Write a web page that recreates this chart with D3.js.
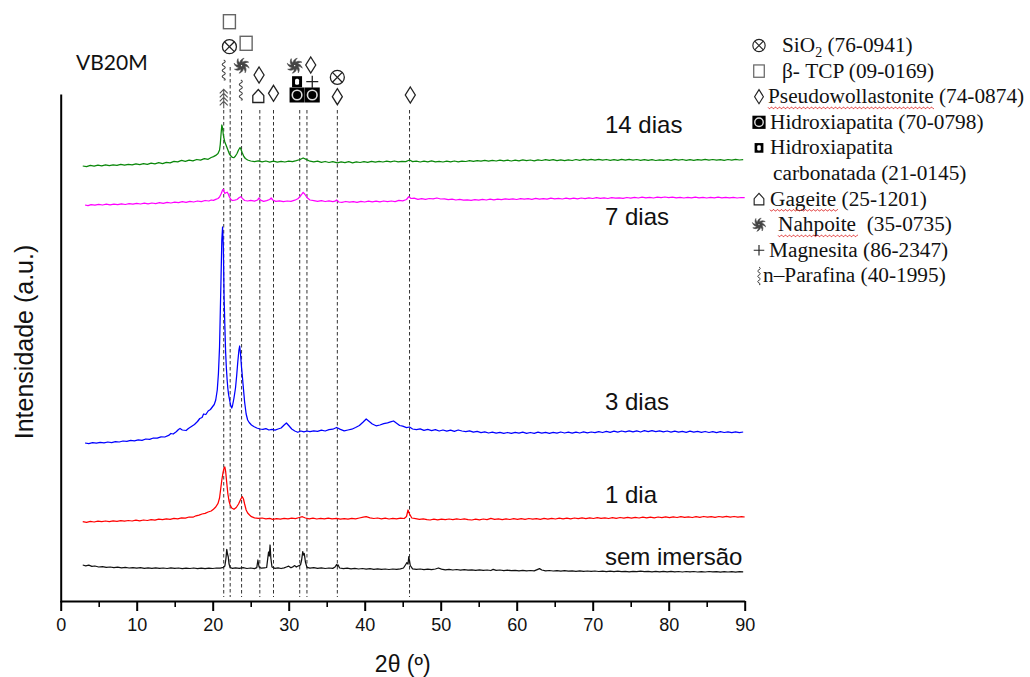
<!DOCTYPE html>
<html><head><meta charset="utf-8">
<script src="https://cdn.jsdelivr.net/npm/d3@7"></script>
<style>
html,body{margin:0;padding:0;background:#fff;}
svg{display:block;}
</style></head><body>
<svg id="chart" width="1030" height="677"></svg>
<script>
// ---------- XRD patterns of VB20M, [2θ (°), intensity (a.u., stacked)] ----------
const dias14 = [[2.9,436],[3.4,435.4],[3.9,436.6],[4.4,435.9],[4.9,436.8],[5.4,436.1],[5.9,437.2],[6.4,436.3],[6.9,437.1],[7.4,436.6],[7.9,437.6],[8.4,436.8],[8.9,437.7],[9.4,437.1],[9.9,438.2],[10.4,437.3],[10.9,438.4],[11.4,437.7],[11.9,438.9],[12.4,438.1],[12.9,439.3],[13.4,438.4],[13.9,439.7],[14.4,439.1],[14.9,440.7],[15.4,440.1],[15.9,441.6],[16.4,440.7],[16.9,441.9],[17.4,441.1],[17.9,442.5],[18.4,441.8],[18.9,443.3],[19.4,442.7],[19.8,444.5],[20.1,445.4],[20.4,446.6],[20.7,448.5],[20.9,452],[21.0,458],[21.1,468],[21.2,477],[21.3,474],[21.4,467],[21.5,463],[21.6,460],[21.8,456],[22.0,452],[22.2,448],[22.4,446],[22.6,444.5],[22.8,444.4],[23.0,446],[23.2,448.5],[23.4,452],[23.6,454.5],[23.7,453],[23.9,449],[24.1,445.5],[24.3,443.5],[24.6,442],[25.0,441],[25.5,440.3],[26.0,441.1],[26.5,440.2],[27.0,441],[27.5,439.9],[28.0,440.8],[28.5,439.8],[29.0,440.7],[29.5,440],[30.0,440.9],[30.5,440.4],[31.0,441.4],[31.5,442.5],[31.9,444],[32.3,442.6],[32.8,440.8],[33.3,440.1],[33.8,440.9],[34.3,439.6],[34.8,440.5],[35.3,439.5],[35.8,440.4],[36.4,439.1],[36.9,440.1],[37.4,439.4],[37.9,440.3],[38.4,439.2],[38.9,440.1],[39.4,439.5],[39.9,440.4],[40.4,439.6],[40.9,440.7],[41.4,439.8],[41.9,440.6],[42.4,440],[42.9,440.9],[43.4,440.2],[43.9,441],[44.4,440.1],[44.9,440.7],[45.4,440.4],[45.9,442],[46.3,440.4],[46.8,440.9],[47.3,440],[47.8,440.8],[48.3,440.2],[48.8,441.1],[49.3,440.2],[49.8,440.7],[50.3,440],[50.8,440.9],[51.3,440.2],[51.8,441],[52.3,440.2],[52.8,440.8],[53.3,440.5],[53.8,441.3],[54.3,440.6],[54.8,441.4],[55.3,440.8],[55.8,441.6],[56.3,440.9],[56.8,441.7],[57.3,441],[57.8,441.9],[58.3,441.2],[58.8,441.8],[59.3,441],[59.8,441.9],[60.3,441.2],[60.8,442.1],[61.3,441.4],[61.8,442],[62.3,441.2],[62.8,442.1],[63.3,441.5],[63.8,442.4],[64.3,441.6],[64.8,442.3],[65.3,441.4],[65.8,442.1],[66.3,441.3],[66.8,442.2],[67.3,441.5],[67.8,442.5],[68.3,441.7],[68.8,442.6],[69.3,441.8],[69.8,442.7],[70.3,441.9],[70.8,442.6],[71.3,441.8],[71.8,442.5],[72.3,441.7],[72.8,442.4],[73.3,441.6],[73.8,442.6],[74.3,441.8],[74.8,442.7],[75.3,441.9],[75.8,442.5],[76.3,441.7],[76.8,442.4],[77.3,441.6],[77.8,442.3],[78.3,441.5],[78.8,442.2],[79.3,441.6],[79.8,442.4],[80.3,441.7],[80.8,442.6],[81.3,441.8],[81.8,442.5],[82.3,441.7],[82.8,442.3],[83.3,441.6],[83.8,442.4],[84.3,441.8],[84.8,442.6],[85.3,441.9],[85.8,442.5],[86.3,441.8],[86.8,442.4],[87.3,441.7],[87.8,442.5],[88.3,441.9],[88.8,442.6],[89.3,442],[89.8,442.3]];

const dias7 = [[3.2,397],[3.6,396.4],[4.0,397.3],[4.5,396.8],[5.0,397.6],[5.5,397],[6.0,397.8],[6.5,397.1],[7.0,397.9],[7.5,397.4],[8.0,398.2],[8.5,397.5],[9.0,398.3],[9.5,397.8],[10.0,398.6],[10.5,398],[11.0,398.8],[11.5,398.1],[12.0,399],[12.5,398.4],[13.0,399.3],[13.5,398.7],[14.0,399.6],[14.5,399],[15.0,399.8],[15.5,399.3],[16.0,400.3],[16.5,399.6],[17.0,400.6],[17.5,400],[18.0,401],[18.5,400.4],[19.0,401.5],[19.5,401],[19.8,402],[20.1,401.6],[20.4,402.6],[20.7,403.5],[20.9,405],[21.1,408],[21.3,412],[21.4,412.7],[21.5,410.5],[21.6,408.6],[21.75,409.2],[21.9,409.8],[22.05,408],[22.2,405],[22.4,402.4],[22.6,401.5],[22.9,401.8],[23.2,402.5],[23.5,404.5],[23.7,405.3],[23.9,403.6],[24.2,401.5],[24.6,401],[25.0,401.6],[25.5,400.8],[25.9,402],[26.1,404],[26.3,401.8],[26.7,400.6],[27.1,401.4],[27.5,402.5],[27.7,404],[27.9,402],[28.3,400.6],[28.8,401.2],[29.3,400.4],[29.8,401],[30.3,400.6],[30.8,401.8],[31.2,403.2],[31.6,406.5],[31.9,409.7],[32.1,408],[32.4,404.5],[32.8,402],[33.3,401.4],[33.8,400.6],[34.3,401.4],[34.8,400.5],[35.3,401.2],[35.8,400.4],[36.1,400.8],[36.3,402],[36.6,400],[37.0,399.6],[37.5,400.5],[38.0,399.8],[38.5,400.4],[39.0,399.7],[39.5,400.6],[40.0,400],[40.5,400.8],[41.0,400.2],[41.5,400.9],[42.0,400.2],[42.5,401],[43.0,400.3],[43.5,401],[44.0,400.4],[44.5,401.6],[45.0,401.2],[45.5,402.5],[45.8,405.3],[46.1,403.5],[46.5,403.8],[47.0,402.6],[47.5,403.4],[48.0,402.6],[48.5,403.5],[49.0,403.2],[49.5,404],[50.0,403],[50.5,403.2],[51.0,402.4],[51.5,402.8],[52.0,402],[52.5,402.6],[53.0,401.8],[53.5,402.2],[54.0,401.7],[54.5,402.4],[55.0,401.9],[55.5,402.6],[56.0,402],[56.5,402.8],[57.0,402.2],[57.5,402.9],[58.0,402.4],[58.5,403.2],[59.0,402.6],[59.5,403.1],[60.0,402.5],[60.5,403.4],[61.0,402.8],[61.5,403.3],[62.0,402.7],[62.5,403.6],[63.0,402.9],[63.5,403.4],[64.0,402.8],[64.5,403.8],[65.0,403.1],[65.5,403.6],[66.0,403],[66.5,403.9],[67.0,403.2],[67.5,403.8],[68.0,403.1],[68.5,404],[69.0,403.4],[69.5,404.1],[70.0,403.5],[70.5,404.3],[71.0,403.7],[71.5,404.1],[72.0,403.5],[72.5,404.4],[73.0,403.8],[73.5,404.2],[74.0,403.6],[74.5,404.5],[75.0,403.9],[75.5,404.6],[76.0,404],[76.5,404.8],[77.0,404.1],[77.5,404.6],[78.0,404],[78.5,404.9],[79.0,404.3],[79.5,405],[80.0,404.4],[80.5,404.8],[81.0,404.1],[81.5,404.7],[82.0,404],[82.5,404.6],[83.0,404.1],[83.5,404.9],[84.0,404.2],[84.5,404.7],[85.0,404],[85.5,404.6],[86.0,404.1],[86.5,404.8],[87.0,404.2],[87.5,404.7],[88.0,404.1],[88.5,404.6],[89.0,404],[89.5,404.5],[90.0,404.3]];

const dias3 = [[3.2,159],[3.7,158.4],[4.2,159.3],[4.7,158.8],[5.2,159.6],[5.7,159.1],[6.2,160],[6.7,159.4],[7.2,160.4],[7.7,160],[8.2,161],[8.7,160.6],[9.2,161.6],[9.7,161.2],[10.2,162.2],[10.7,161.7],[11.2,163],[11.7,162.6],[12.2,164],[12.7,163.8],[13.2,165.2],[13.7,165],[14.2,166.6],[14.5,168.5],[14.8,168],[15.2,170.2],[15.5,172.5],[15.7,173.5],[16.0,172],[16.5,171.5],[16.8,173.5],[17.2,175.5],[17.6,177.5],[18.0,180.5],[18.3,183.5],[18.6,184.5],[18.8,188],[19.1,187.5],[19.4,191],[19.7,192.5],[20.0,195.5],[20.2,197.5],[20.4,202],[20.6,212],[20.75,228],[20.9,255],[21.0,290],[21.1,325],[21.2,362],[21.3,375],[21.4,355],[21.5,304],[21.6,276],[21.7,250],[21.8,234],[21.9,222],[22.0,213],[22.1,207],[22.2,203],[22.35,197],[22.5,194],[22.6,196],[22.8,204],[23.0,214],[23.15,226],[23.3,240],[23.45,252],[23.55,256],[23.65,249],[23.8,234],[23.9,226],[24.0,217],[24.2,200],[24.4,188],[24.6,182],[24.8,179.5],[25.1,177],[25.4,175.5],[25.8,174],[26.2,173],[26.6,172.6],[27.0,173.4],[27.4,172],[27.8,172.6],[28.2,171.8],[28.6,173],[29.0,174],[29.4,177],[29.7,179],[30.0,176.5],[30.4,173],[30.8,171],[31.2,169.7],[31.6,171],[32.0,170.2],[32.4,171],[32.8,170.3],[33.3,171.2],[33.8,170.6],[34.3,171.8],[34.8,171],[35.3,172.3],[35.8,172.8],[36.3,174.5],[36.8,172.6],[37.3,171.2],[37.8,172],[38.3,172.8],[38.8,174.5],[39.3,176.5],[39.8,180],[40.2,183],[40.6,180.5],[41.0,178],[41.5,176.2],[42.0,177],[42.5,178.4],[43.0,179.2],[43.5,180.3],[43.8,181],[44.2,178.8],[44.6,176.5],[45.0,175.8],[45.5,174.4],[45.9,175],[46.3,173],[46.8,172.4],[47.3,173.2],[47.8,171.6],[48.3,172.6],[48.8,171.4],[49.3,172.4],[49.8,171],[50.3,172],[50.8,170.8],[51.3,171.9],[51.8,170.6],[52.3,172],[52.8,171],[53.3,170.4],[53.8,171.2],[54.3,169.8],[54.8,170.6],[55.3,169.4],[55.8,170.2],[56.3,169],[56.8,169.9],[57.3,168.8],[57.8,169.6],[58.3,168.7],[58.8,169.5],[59.3,168.6],[59.8,169.6],[60.3,168.8],[60.8,169.8],[61.3,168.6],[61.8,169.5],[62.3,168.7],[62.8,169.8],[63.3,168.9],[63.8,169.7],[64.3,168.7],[64.8,169.6],[65.3,168.9],[65.8,170],[66.3,169],[66.8,169.8],[67.3,168.8],[67.8,169.9],[68.3,169],[68.8,170.1],[69.3,169.2],[69.8,170],[70.3,169.3],[70.8,170.4],[71.3,169.5],[71.8,170.6],[72.3,169.6],[72.8,170.8],[73.3,169.9],[73.8,171],[74.3,170.1],[74.8,171.2],[75.3,170.2],[75.8,171.1],[76.3,170],[76.8,171.3],[77.3,170.3],[77.8,171.4],[78.3,170.4],[78.8,171.2],[79.3,170.2],[79.8,171],[80.3,169.9],[80.8,170.9],[81.3,169.8],[81.8,170.7],[82.3,169.7],[82.8,170.8],[83.3,169.9],[83.8,170.6],[84.3,169.6],[84.8,170.5],[85.3,169.5],[85.8,170.4],[86.3,169.4],[86.8,170.3],[87.3,169.5],[87.8,170.2],[88.3,169.3],[88.8,170.1],[89.3,169.4],[89.8,170]];

const dia1 = [[2.9,80.3],[3.4,79.7],[3.9,80.6],[4.4,80],[4.9,80.8],[5.4,80.3],[5.9,81],[6.4,80.4],[6.9,81.1],[7.4,80.6],[7.9,81.3],[8.4,80.8],[8.9,81.5],[9.4,81],[9.9,81.8],[10.4,81.2],[10.9,82],[11.4,81.5],[11.9,82.3],[12.4,81.8],[12.9,82.8],[13.4,82.3],[13.9,83.2],[14.4,82.7],[14.9,83.6],[15.4,83.2],[15.9,84.2],[16.4,83.8],[16.9,85],[17.4,84.8],[17.8,86.2],[18.2,86.8],[18.6,88],[19.0,88.6],[19.4,90],[19.8,91],[20.1,92.8],[20.4,95],[20.7,98.7],[20.9,104],[21.05,113],[21.2,122],[21.35,129],[21.5,134],[21.6,135],[21.7,131],[21.8,123],[21.9,115.3],[22.0,108],[22.15,101],[22.3,97],[22.5,94],[22.8,92.7],[23.1,94.5],[23.4,98],[23.7,103],[23.9,105.3],[24.05,103],[24.2,98],[24.4,92],[24.6,89],[24.85,87],[25.1,85.3],[25.5,84.2],[26.0,83.6],[26.5,84],[27.0,83.2],[27.5,83.6],[27.9,82.7],[28.4,83.4],[28.9,82.9],[29.4,83.6],[29.9,83.1],[30.4,83.8],[30.9,83.4],[31.4,84.5],[31.8,85.3],[32.2,84],[32.7,83.2],[33.2,83.8],[33.7,83],[34.2,83.7],[34.7,83.1],[35.2,83.8],[35.7,83.2],[36.3,83.7],[36.8,82.8],[37.3,83.4],[37.8,82.8],[38.3,83.6],[38.8,83.2],[39.3,84],[39.8,84.8],[40.2,85.3],[40.7,84.2],[41.2,83.5],[41.7,84],[42.2,83.2],[42.7,83.8],[43.2,83],[43.7,83.7],[44.2,83.1],[44.7,83.8],[45.2,83.5],[45.5,85.5],[45.7,92],[45.9,88],[46.2,84],[46.7,83.4],[47.2,82.6],[47.7,83.2],[48.2,82.4],[48.6,82],[49.1,82.8],[49.6,82.2],[50.1,82.9],[50.6,82.3],[51.1,83],[51.6,82.4],[52.1,83.1],[52.6,82.5],[53.1,83.2],[53.6,82.3],[54.1,82],[54.6,82.8],[55.1,82.2],[55.6,83],[56.1,82.4],[56.6,83.6],[57.1,82.6],[57.6,83.1],[58.1,82.4],[58.6,83.2],[59.1,82.5],[59.6,83.3],[60.1,82.6],[60.6,83.4],[61.1,82.7],[61.6,83.5],[62.1,82.8],[62.6,83.4],[63.1,82.7],[63.6,83.6],[64.1,82.9],[64.6,83.7],[65.1,83],[65.6,83.8],[66.1,83.1],[66.6,83.9],[67.1,83.2],[67.6,84],[68.1,83.3],[68.6,84.1],[69.1,83.4],[69.6,84.2],[70.1,83.5],[70.6,84.3],[71.1,83.6],[71.6,84.2],[72.1,83.5],[72.6,84.4],[73.1,83.7],[73.6,84.5],[74.1,83.8],[74.6,84.6],[75.1,83.9],[75.6,84.7],[76.1,84],[76.6,84.8],[77.1,84.1],[77.6,84.9],[78.1,84.2],[78.6,85],[79.1,84.3],[79.6,85.1],[80.1,84.4],[80.6,85.2],[81.1,84.5],[81.6,85.3],[82.1,84.6],[82.6,85.2],[83.1,84.5],[83.6,85.4],[84.1,84.7],[84.6,85.5],[85.1,84.8],[85.6,85.4],[86.1,84.7],[86.6,85.5],[87.1,84.9],[87.6,85.6],[88.1,84.9],[88.6,85.5],[89.1,84.8],[89.6,85.4],[90.0,85]];

const semImersao = [[2.9,37],[3.3,36.2],[3.7,36.8],[4.1,35.6],[4.5,36],[5.0,35],[5.5,35.4],[6.0,34.6],[6.5,35],[7.0,34.3],[7.5,34.8],[8.0,34.2],[8.5,34.6],[9.0,34],[9.5,34.4],[10.0,33.8],[10.5,34.3],[11.0,33.7],[11.5,34.1],[12.0,33.6],[12.5,34.2],[13.0,33.7],[13.5,34],[14.0,33.5],[14.5,34.1],[15.0,33.6],[15.5,34],[16.0,33.4],[16.5,33.9],[17.0,33.5],[17.5,34],[18.0,33.4],[18.5,33.8],[19.0,33.3],[19.5,33.9],[20.0,33.5],[20.5,34],[21.0,33.8],[21.4,34.6],[21.6,36],[21.75,44],[21.85,52.7],[21.95,48],[22.05,45],[22.15,38],[22.3,34.5],[22.6,33.6],[23.0,34.2],[23.5,33.6],[24.0,34.3],[24.5,33.5],[25.0,34],[25.5,33.4],[25.8,34.4],[25.95,42],[26.1,35],[26.4,33.8],[26.8,34.2],[27.1,34.5],[27.25,44],[27.35,50],[27.45,46],[27.55,57],[27.65,44],[27.8,35],[28.2,33.6],[28.6,34.2],[29.0,33.5],[29.4,34.2],[29.7,35],[30.0,35.8],[30.3,34.2],[30.6,35.4],[30.8,36.4],[31.0,35],[31.3,36.2],[31.55,37],[31.7,42],[31.85,50.3],[31.95,47],[32.05,48.5],[32.2,40],[32.4,34.6],[32.8,33.8],[33.3,34.4],[33.8,33.6],[34.3,34.2],[34.8,33.5],[35.3,34],[35.8,33.6],[36.1,35],[36.3,37.5],[36.4,36],[36.5,37],[36.7,34],[37.2,33.4],[37.7,33.8],[38.2,33.2],[38.7,33.6],[39.2,33],[39.7,33.5],[40.2,32.9],[40.7,33.3],[41.2,32.7],[41.7,33.2],[42.2,32.6],[42.7,33],[43.2,32.5],[43.7,33],[44.2,32.6],[44.7,33.2],[45.1,34],[45.4,37.5],[45.55,39.3],[45.7,38],[45.8,45.3],[45.9,41],[46.0,36.5],[46.3,33.2],[46.8,32.6],[47.3,33],[47.8,32.4],[48.3,32.8],[48.8,32.3],[49.3,33],[49.7,34],[50.1,32.8],[50.6,32.2],[51.1,32.6],[51.6,32],[52.1,32.5],[52.6,31.9],[53.1,32.3],[53.6,31.8],[54.1,32.2],[54.6,31.7],[55.1,32.1],[55.6,31.6],[56.1,32],[56.6,31.5],[56.9,32.6],[57.3,31.6],[57.8,32],[58.3,31.4],[58.8,31.8],[59.3,31.3],[59.8,31.7],[60.3,31.2],[60.8,31.6],[61.3,31.1],[61.8,31.5],[62.3,31.1],[62.7,32.4],[63.0,33.4],[63.3,32],[63.8,31.2],[64.3,31.5],[64.8,31],[65.3,31.4],[65.8,30.9],[66.3,31.3],[66.8,30.8],[67.3,31.2],[67.8,30.7],[68.3,31.1],[68.8,30.6],[69.3,31],[69.8,30.6],[70.3,31],[70.8,30.5],[71.3,30.9],[71.8,30.4],[72.3,30.8],[72.8,30.4],[73.3,30.8],[73.8,30.3],[74.3,30.7],[74.8,30.2],[75.3,30.7],[75.8,30.3],[76.3,30.8],[76.8,30.3],[77.3,30.7],[77.8,30.2],[78.3,30.6],[78.8,30.1],[79.3,30.6],[79.8,30.2],[80.3,30.6],[80.8,30.1],[81.3,30.5],[81.8,30],[82.3,30.5],[82.8,30.1],[83.3,30.5],[83.8,30],[84.3,30.4],[84.8,30],[85.3,30.5],[85.8,30.1],[86.3,30.4],[86.8,29.9],[87.3,30.4],[87.8,30],[88.3,30.4],[88.8,29.9],[89.3,30.3],[89.8,30.1]];

const seriesNames = ["14 dias", "7 dias", "3 dias", "1 dia", "sem imersão"];
const seriesData = [dias14, dias7, dias3, dia1, semImersao];
const seriesColors = ["#0a870a", "#ff00ff", "#0000ff", "#ff0000", "#111111"];

// reflections marked with dashed guide lines (2θ, °)
const phaseLines = [21.45, 22.3, 23.8, 26.2, 28.0, 31.45, 32.4, 36.4, 45.9];

// phase symbols placed above the patterns
const markPhase = ["tcp","siO2","tcp","parafina","nahpoite","pseudo","nahpoite","pseudo","siO2",
                   "chap","magnesita","hap","hap","fern","parafina","gageite","pseudo","pseudo","pseudo"];
const markTheta = [22.2, 22.2, 24.4, 21.45, 23.8, 26.1, 30.8, 32.9, 36.4,
                   31.1, 33.1, 31.1, 33.1, 21.45, 23.7, 26.0, 28.0, 36.4, 46.0];

// legend
const legendPhase = ["siO2","tcp","pseudo","hap","chap",null,"gageite","nahpoite","magnesita","parafina"];
const legendWord  = ["SiO","β- TCP","Pseudowollastonite","Hidroxiapatita","Hidroxiapatita","carbonatada","Gageite","Nahpoite","Magnesita","n–Parafina"];
const legendCode  = [" (76-0941)"," (09-0169)"," (74-0874)"," (70-0798)","", " (21-0145)"," (25-1201)","\u00a0 (35-0735)"," (86-2347)"," (40-1995)"];
const legendFlagged = [false,false,true,false,false,false,true,true,false,false];

const xTicks = [0,10,20,30,40,50,60,70,80,90];
const xMinorTicks = [5,15,25,35,45,55,65,75,85];

// ---------- layout ----------
const svg = d3.select("#chart");
const sans = "'Liberation Sans', Arial, sans-serif";
const serif = "'Liberation Serif', 'Times New Roman', serif";
const x = d3.scaleLinear().domain([0, 90]).range([60.7, 744.7]);
const y = d3.scaleLinear().domain([0, 508]).range([602, 94]);
const axisY = 601;
const ink = "#222";

// dashed guide lines
const lineTop = {22.3: 67};
svg.append("g").selectAll("line").data(phaseLines).join("line")
  .attr("x1", d => x(d)).attr("x2", d => x(d))
  .attr("y1", d => lineTop[d] || 110).attr("y2", 597)
  .attr("stroke", "#333").attr("stroke-width", 1).attr("stroke-dasharray", "3.5,2.5");

// patterns
const line = d3.line().x(d => x(d[0])).y(d => y(d[1]));
svg.append("g").selectAll("path").data(seriesData).join("path")
  .attr("d", line).attr("fill", "none")
  .attr("stroke", (d, i) => seriesColors[i]).attr("stroke-width", 1.25)
  .attr("stroke-linejoin", "round");

// axes
const xAxis = svg.append("g").attr("transform", `translate(0,${axisY})`)
  .call(d3.axisBottom(x).tickValues(xTicks).tickSize(10).tickSizeOuter(0).tickPadding(7));
xAxis.select(".domain").attr("stroke", "#000").attr("stroke-width", 2);
xAxis.selectAll(".tick line").attr("stroke", "#000").attr("stroke-width", 2);
xAxis.selectAll(".tick text").attr("font-family", sans).attr("font-size", 18).attr("fill", "#111");
const xMinor = svg.append("g").attr("transform", `translate(0,${axisY})`)
  .call(d3.axisBottom(x).tickValues(xMinorTicks).tickSize(6).tickFormat(""));
xMinor.select(".domain").remove();
xMinor.selectAll(".tick line").attr("stroke", "#000").attr("stroke-width", 1.6);

const yAxis = svg.append("g").attr("transform", `translate(${x(0)},0)`)
  .call(d3.axisLeft(y).tickValues([]).tickSizeOuter(0));
yAxis.select(".domain").attr("stroke", "#000").attr("stroke-width", 2);

svg.append("text").attr("x", x(45)).attr("y", 672).attr("text-anchor", "middle")
  .attr("font-family", sans).attr("font-size", 23).attr("fill", "#111").text("2θ (º)");
svg.append("text").attr("transform", "translate(33,342) rotate(-90)").attr("text-anchor", "middle")
  .attr("font-family", sans).attr("font-size", 25).attr("fill", "#111").text("Intensidade (a.u.)");
svg.append("text").attr("x", 76).attr("y", 70)
  .attr("font-family", "Lato, 'Open Sans', sans-serif").attr("font-size", 21).attr("fill", "#111").text("VB20M");

// pattern labels
const labelBase = [133, 225, 410, 503, 565];
svg.append("g").selectAll("text").data(seriesNames).join("text")
  .attr("x", 605).attr("y", (d, i) => labelBase[i])
  .attr("font-family", sans).attr("font-size", 24).attr("fill", "#111").text(d => d);

// ---------- phase glyphs ----------
const glyph = {
  siO2(g) {
    g.append("circle").attr("r", 7).attr("fill", "#fff").attr("stroke", ink).attr("stroke-width", 1.3);
    g.append("path").attr("d", "M-4.9,-4.9L4.9,4.9M-4.9,4.9L4.9,-4.9").attr("stroke", ink).attr("stroke-width", 1.3);
  },
  tcp(g) {
    g.append("rect").attr("x", -6).attr("y", -7).attr("width", 12).attr("height", 14)
      .attr("fill", "#fff").attr("stroke", "#666").attr("stroke-width", 1.4);
  },
  pseudo(g) {
    g.append("path").attr("d", "M0,-8L5,0L0,8L-5,0Z").attr("fill", "#fff").attr("stroke", ink).attr("stroke-width", 1.3);
  },
  hap(g) {
    g.append("rect").attr("x", -7.5).attr("y", -7.5).attr("width", 15).attr("height", 15).attr("fill", "#000");
    g.append("circle").attr("r", 4.8).attr("fill", "#000").attr("stroke", "#ddd").attr("stroke-width", 1.6);
  },
  chap(g) {
    g.append("rect").attr("x", -5).attr("y", -5.5).attr("width", 10).attr("height", 11).attr("fill", "#000");
    g.append("rect").attr("x", -2).attr("y", -3).attr("width", 4).attr("height", 6).attr("rx", 1.5).attr("fill", "#fff");
  },
  gageite(g) {
    g.append("path").attr("d", "M-5.5,6.5V-0.5L0,-6.5L5.5,-0.5V6.5Z").attr("fill", "#fff").attr("stroke", ink).attr("stroke-width", 1.3);
  },
  magnesita(g) {
    g.append("path").attr("d", "M-6,0H6M0,-6V6").attr("stroke", ink).attr("stroke-width", 1.3);
  },
  parafina(g) {
    g.append("path").attr("d", "M0,-10c2,1 2,2 0,3c-2,1 -2,2 0,3c2,1 2,2 0,3c-2,1 -2,2 0,3c2,1 2,2 0,3c-2,1 -2,2 0,3c2,1 2,2 0,2")
      .attr("fill", "none").attr("stroke", "#444").attr("stroke-width", 1.1);
  },
  nahpoite(g) {
    const blades = g.append("g");
    for (let k = 0; k < 8; k++) {
      blades.append("path").attr("transform", `rotate(${k * 45})`)
        .attr("d", "M0,-1.5C3,-2.5 6.5,-1.5 7.5,2.5C6,0.8 4,0 1.6,1.2")
        .attr("fill", "#444").attr("stroke", "#444").attr("stroke-width", 0.6);
    }
  },
  fern(g) {
    g.append("path").attr("d", "M0,-9V10M-4,-5L0,-9L4,-5M-4,-1L0,-5L4,-1M-4,3L0,-1L4,3M-4,7L0,3L4,7")
      .attr("fill", "none").attr("stroke", "#555").attr("stroke-width", 1.1);
  }
};

// placement of the glyphs above the patterns
const markY = [21.7, 46.7, 43.3, 70, 65.7, 75, 65.7, 65, 77.3, 81.7, 81.7, 95, 95, 98.3, 90, 96, 93.3, 96.7, 95];
const marks = svg.append("g");
markPhase.forEach((p, i) => {
  const g = marks.append("g").attr("transform", `translate(${x(markTheta[i])},${markY[i]})`);
  glyph[p](g);
});

// legend
const legRowBase = 52, legRowStep = 25.6;
const legTextX = [782, 782, 768, 770, 770, 773, 770, 778, 769, 763];
const legend = svg.append("g");
legendWord.forEach((w, i) => {
  const by = legRowBase + i * legRowStep;
  if (legendPhase[i]) {
    const g = legend.append("g").attr("transform", `translate(759,${by - 6.5}) scale(0.88)`);
    glyph[legendPhase[i]](g);
  }
  const t = legend.append("text").attr("x", legTextX[i]).attr("y", by)
    .attr("font-family", serif).attr("font-size", 21.3).attr("fill", "#111");
  const word = t.append("tspan").text(w);
  if (i === 0) {
    t.append("tspan").attr("dy", 5).attr("font-size", 14).text("2");
    t.append("tspan").attr("dy", -5).text(legendCode[i]);
  } else {
    t.append("tspan").text(legendCode[i]);
  }
  if (legendFlagged[i]) {
    const len = word.node().getComputedTextLength();
    let d = `M${legTextX[i]},${by + 4}`;
    for (let k = 0; k * 2 < len; k++) d += `l1,${k % 2 ? -1.4 : 1.4}l1,0`;
    legend.append("path").attr("d", d).attr("fill", "none").attr("stroke", "#e03030").attr("stroke-width", 0.8);
  }
});
</script>
</body></html>
